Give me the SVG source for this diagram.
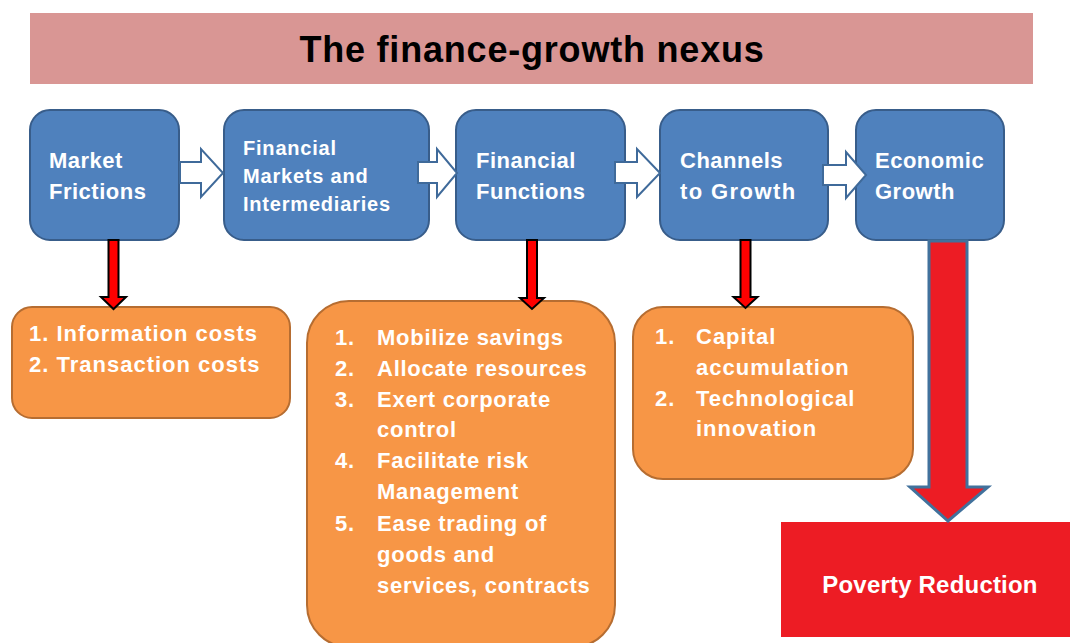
<svg xmlns="http://www.w3.org/2000/svg" width="1070" height="643" viewBox="0 0 1070 643">
<style>
text{font-family:"Liberation Sans",Arial,sans-serif;font-weight:bold;fill:#fff}
.blue{fill:#4F81BD;stroke:#385D8A;stroke-width:2}
.orange{fill:#F79646;stroke:#B66D31;stroke-width:2}
.bt{font-size:22px;letter-spacing:0.5px}
.bt2{font-size:20px;letter-spacing:0.8px}
.ot{font-size:22px;letter-spacing:1px}
.ot2{font-size:22px;letter-spacing:0.75px}
.hollow{fill:#fff;stroke:#3F6A9A;stroke-width:2;stroke-linejoin:miter}
.red{fill:#FF0000;stroke:#000;stroke-width:2}
</style>
<rect width="1070" height="643" fill="#fff"/>
<g id="title">
<rect x="30" y="13" width="1003" height="71" fill="#D99694"/>
<text x="532" y="62" text-anchor="middle" style="fill:#000;font-size:36px;letter-spacing:0.8px">The finance-growth nexus</text>
</g>
<g id="market-frictions">
<rect class="blue" x="30" y="110" width="149" height="130" rx="20"/>
<text class="bt" x="49" y="168">Market</text>
<text class="bt" x="49" y="199">Frictions</text>
</g>
<g id="financial-markets">
<rect class="blue" x="224" y="110" width="205" height="130" rx="20"/>
<text class="bt2" x="243" y="155">Financial</text>
<text class="bt2" x="243" y="183">Markets and</text>
<text class="bt2" x="243" y="211">Intermediaries</text>
</g>
<g id="financial-functions">
<rect class="blue" x="456" y="110" width="169" height="130" rx="20"/>
<text class="bt" x="476" y="168">Financial</text>
<text class="bt" x="476" y="199">Functions</text>
</g>
<g id="channels">
<rect class="blue" x="660" y="110" width="168" height="130" rx="20"/>
<text class="bt" x="680" y="168">Channels</text>
<text class="bt" x="680" y="199" style="letter-spacing:1.4px">to Growth</text>
</g>
<g id="economic-growth">
<rect class="blue" x="856" y="110" width="148" height="130" rx="20"/>
<text class="bt" x="875" y="168">Economic</text>
<text class="bt" x="875" y="199">Growth</text>
</g>
<g id="costs">
<rect class="orange" x="12" y="307" width="278" height="111" rx="20"/>
<text class="ot" x="29" y="341">1. Information costs</text>
<text class="ot" x="29" y="372">2. Transaction costs</text>
</g>
<g id="functions-list">
<rect class="orange" x="307" y="301" width="308" height="346" rx="42"/>
<text class="ot2" x="335" y="345">1.</text><text class="ot2" x="377" y="345">Mobilize savings</text>
<text class="ot2" x="335" y="376">2.</text><text class="ot2" x="377" y="376">Allocate resources</text>
<text class="ot2" x="335" y="407">3.</text><text class="ot2" x="377" y="407">Exert corporate</text>
<text class="ot2" x="377" y="437">control</text>
<text class="ot2" x="335" y="468">4.</text><text class="ot2" x="377" y="468">Facilitate risk</text>
<text class="ot2" x="377" y="499">Management</text>
<text class="ot2" x="335" y="531">5.</text><text class="ot2" x="377" y="531">Ease trading of</text>
<text class="ot2" x="377" y="562">goods and</text>
<text class="ot2" x="377" y="593">services, contracts</text>
</g>
<g id="channels-list">
<rect class="orange" x="633" y="307" width="280" height="172" rx="30"/>
<text class="ot" x="655" y="344">1.</text><text class="ot" x="696" y="344">Capital</text>
<text class="ot" x="696" y="375">accumulation</text>
<text class="ot" x="655" y="406">2.</text><text class="ot" x="696" y="406">Technological</text>
<text class="ot" x="696" y="436">innovation</text>
</g>
<g id="poverty-reduction">
<rect x="781" y="522" width="289" height="115" fill="#ED1C24"/>
<text x="930" y="593" text-anchor="middle" style="font-size:24px;letter-spacing:0.2px">Poverty Reduction</text>
</g>
<g id="connectors">
<path class="hollow" d="M180,162 H201 V149 L223,173 L201,197 V183 H180 Z"/>
<path class="hollow" d="M418,162 H437 V149 L457,173 L437,197 V183 H418 Z"/>
<path class="hollow" d="M615,162 H637 V149 L660,173 L637,197 V183 H615 Z"/>
<path class="hollow" d="M823,165 H846 V152 L866,175 L846,198 V185 H823 Z"/>
<path class="red" d="M108.5,240 H118.5 V297 H126 L113.5,309 L101,297 H108.5 Z"/>
<path class="red" d="M527,240 H537 V298 H544 L532,309 L520,298 H527 Z"/>
<path class="red" d="M740.5,240 H750.5 V297 H757.5 L745.5,308 L733.5,297 H740.5 Z"/>
<path d="M929,241 H967 V487 H988 L948,521 L910,487 H929 Z" fill="#ED1C24" stroke="#41719C" stroke-width="3"/>
</g>
</svg>
